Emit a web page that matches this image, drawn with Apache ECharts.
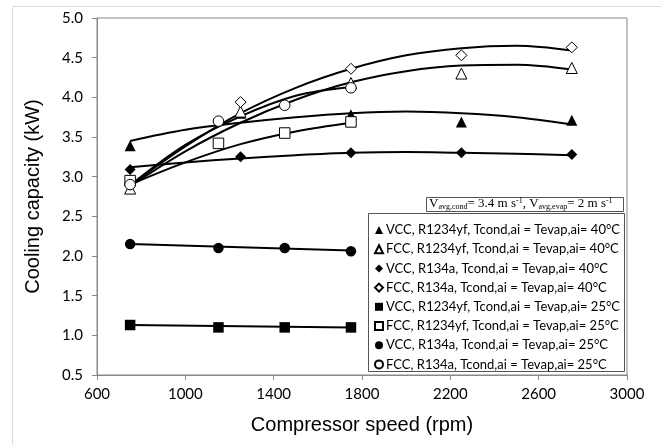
<!DOCTYPE html>
<html><head><meta charset="utf-8">
<script src="https://cdn.jsdelivr.net/npm/echarts@6/dist/echarts.min.js"></script>
<style>html,body{margin:0;padding:0;background:#fff}#c{width:661px;height:445px}</style>
</head><body><div id="c"></div>
<script>
// ---- data ----
const xTicks = [600, 1000, 1400, 1800, 2200, 2600, 3000];
const yTicks = [0.5, 1.0, 1.5, 2.0, 2.5, 3.0, 3.5, 4.0, 4.5, 5.0];

const speeds40 = [750, 1250, 1750, 2250, 2750];
const speeds25 = [750, 1150, 1450, 1750];

const vccR1234yf40 = [3.39, 3.80, 3.78, 3.69, 3.71];
const fccR1234yf40 = [2.85, 3.82, 4.18, 4.30, 4.37];
const vccR134a40   = [3.09, 3.25, 3.30, 3.30, 3.28];
const fccR134a40   = [2.90, 3.94, 4.36, 4.53, 4.63];
const vccR1234yf25 = [1.13, 1.10, 1.10, 1.10];
const fccR1234yf25 = [2.95, 3.42, 3.55, 3.69];
const vccR134a25   = [2.15, 2.10, 2.10, 2.06];
const fccR134a25   = [2.90, 3.70, 3.90, 4.12];

// trendline values
const trendX40 = [750, 1000, 1250, 1500, 1750, 2000, 2250, 2500, 2750];
const trendX25 = [750, 1000, 1250, 1500, 1750];
const trendX25lin = [750, 1750];
const trendVccR1234yf40 = [3.45, 3.59, 3.68, 3.75, 3.80, 3.82, 3.80, 3.75, 3.66];
const trendFccR1234yf40 = [2.88, 3.32, 3.68, 3.97, 4.19, 4.33, 4.40, 4.41, 4.35];
const trendVccR134a40   = [3.12, 3.18, 3.23, 3.27, 3.30, 3.31, 3.30, 3.29, 3.27];
const trendFccR134a40   = [2.89, 3.38, 3.80, 4.12, 4.36, 4.53, 4.62, 4.65, 4.59];
const trendFccR1234yf25 = [2.90, 3.18, 3.41, 3.57, 3.68];
const trendFccR134a25   = [2.89, 3.40, 3.76, 4.02, 4.13];
const trendVccR1234yf25 = [1.13, 1.10];
const trendVccR134a25   = [2.15, 2.07];

const names = [
  'VCC, R1234yf, Tcond,ai = Tevap,ai= 40°C',
  'FCC, R1234yf, Tcond,ai = Tevap,ai= 40°C',
  'VCC, R134a, Tcond,ai = Tevap,ai= 40°C',
  'FCC, R134a, Tcond,ai = Tevap,ai= 40°C',
  'VCC, R1234yf, Tcond,ai = Tevap,ai= 25°C',
  'FCC, R1234yf, Tcond,ai = Tevap,ai= 25°C',
  'VCC, R134a, Tcond,ai = Tevap,ai= 25°C',
  'FCC, R134a, Tcond,ai = Tevap,ai= 25°C'
];

const zip = (xs, ys) => xs.map((x, i) => [x, ys[i]]);

function trend(xs, ys) {
  return { type: 'line', data: zip(xs, ys), smooth: 0.35, symbol: 'none', silent: true,
    lineStyle: { color: '#000', width: 2 }, z: 2, legendHoverLink: false };
}
function marks(name, xs, ys, symbol, size, filled) {
  return { type: 'scatter', name: name, data: zip(xs, ys), symbol: symbol, symbolSize: size, z: 5,
    itemStyle: filled ? { color: '#000', borderColor: '#000', borderWidth: 0, opacity: 1 }
                      : { color: '#fff', borderColor: '#000', borderWidth: 1, opacity: 1 } };
}

const series = [
  trend(trendX40, trendVccR1234yf40),
  trend(trendX40, trendFccR1234yf40),
  trend(trendX40, trendVccR134a40),
  trend(trendX40, trendFccR134a40),
  trend(trendX25lin, trendVccR1234yf25),
  trend(trendX25, trendFccR1234yf25),
  trend(trendX25lin, trendVccR134a25),
  trend(trendX25, trendFccR134a25),
  marks(names[0], speeds40, vccR1234yf40, 'triangle', 11, true),
  marks(names[1], speeds40, fccR1234yf40, 'triangle', 11, false),
  marks(names[2], speeds40, vccR134a40, 'diamond', 11, true),
  marks(names[3], speeds40, fccR134a40, 'diamond', 11, false),
  marks(names[4], speeds25, vccR1234yf25, 'rect', 10.5, true),
  marks(names[5], speeds25, fccR1234yf25, 'rect', 10.5, false),
  marks(names[6], speeds25, vccR134a25, 'circle', 10.5, true),
  marks(names[7], speeds25, fccR134a25, 'circle', 10.5, false)
];

const axisGray = '#888888';
const chart = echarts.init(document.getElementById('c'), null, { renderer: 'canvas' });
chart.setOption({
  animation: false,
  backgroundColor: '#fff',
  grid: { left: 97, right: 34, top: 18, bottom: 70, show: true, borderColor: axisGray, borderWidth: 1 },
  xAxis: {
    type: 'value', min: xTicks[0], max: xTicks[xTicks.length - 1], interval: 400,
    name: 'Compressor speed (rpm)', nameLocation: 'middle', nameGap: 40,
    nameTextStyle: { fontFamily: 'Liberation Sans', fontSize: 20, color: '#000' },
    axisLine: { lineStyle: { color: axisGray } },
    axisTick: { show: true, inside: false, length: 5, lineStyle: { color: axisGray } },
    axisLabel: { fontFamily: 'Lato', fontSize: 15, color: '#000', margin: 12, formatter: v => String(v) },
    splitLine: { show: false }
  },
  yAxis: {
    type: 'value', min: yTicks[0], max: yTicks[yTicks.length - 1], interval: 0.5,
    name: 'Cooling capacity (kW)', nameLocation: 'middle', nameGap: 54,
    nameTextStyle: { fontFamily: 'Liberation Sans', fontSize: 20, color: '#000' },
    axisLine: { show: true, lineStyle: { color: axisGray } },
    axisTick: { show: true, inside: false, length: 5, lineStyle: { color: axisGray } },
    axisLabel: { fontFamily: 'Lato', fontSize: 15, color: '#000', margin: 14,
      formatter: v => v.toFixed(1) },
    splitLine: { show: false }
  },
  legend: {
    data: names, orient: 'vertical', left: 374, top: 223, z: 20,
    itemWidth: 8, itemHeight: 8, itemGap: 5.2, padding: 0,
    textStyle: { fontFamily: 'Lato', fontSize: 13, color: '#000', lineHeight: 14, padding: [0, 0, 0, -2] },
    selectedMode: false
  },
  graphic: [
    { type: 'rect', shape: { x: 12.5, y: 6.5, width: 700, height: 500 }, style: { fill: 'none', stroke: '#dcdcdc', lineWidth: 1 }, silent: true, z: -10 },
    { type: 'rect', shape: { x: 368.5, y: 213.5, width: 256, height: 158 }, style: { fill: '#fff', stroke: '#555', lineWidth: 1 }, z: 3 },
    { type: 'rect', shape: { x: 426.5, y: 197.5, width: 197, height: 14 }, style: { fill: '#fff', stroke: '#555', lineWidth: 1 }, z: 3 },
    { type: 'text', left: 429, top: 197, z: 4, style: {
        text: '{n|V}{sub|avg,cond}{n|= 3.4 m s}{sup|-1}{n|, V}{sub|avg,evap}{n|= 2 m s}{sup|-1}',
        rich: {
          n: { fontFamily: 'Liberation Serif', fontSize: 13, lineHeight: 14, verticalAlign: 'middle', fill: '#000' },
          sub: { fontFamily: 'Liberation Serif', fontSize: 8, lineHeight: 14, verticalAlign: 'bottom', fill: '#000' },
          sup: { fontFamily: 'Liberation Serif', fontSize: 8, lineHeight: 14, verticalAlign: 'top', fill: '#000' }
        } } }
  ],
  series: series
});
</script></body></html>
